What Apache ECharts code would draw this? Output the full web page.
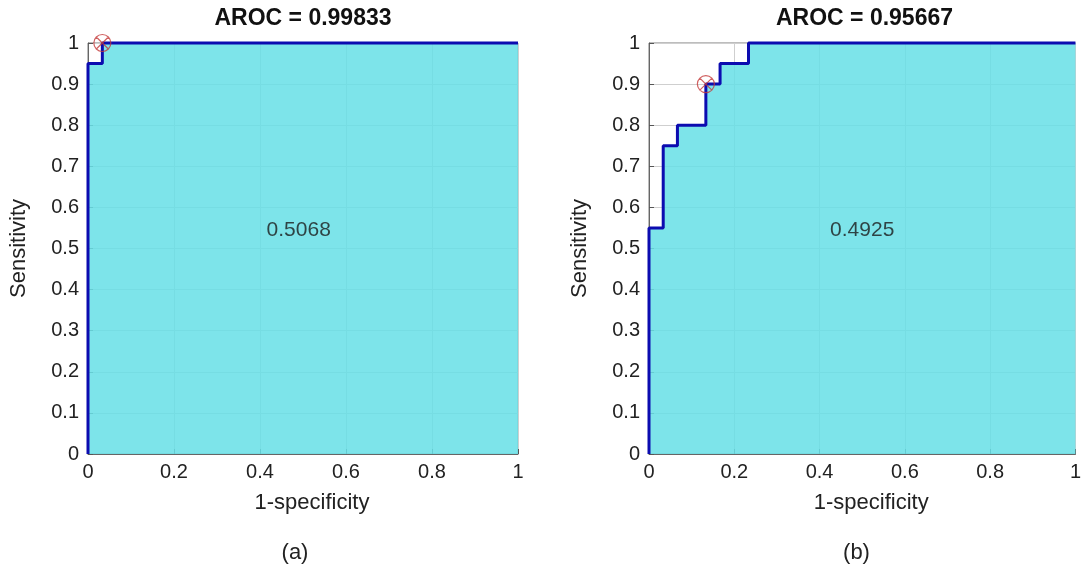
<!DOCTYPE html>
<html>
<head>
<meta charset="utf-8">
<script src="https://cdn.jsdelivr.net/npm/echarts@6/dist/echarts.min.js"></script>
<style>
  html, body { margin: 0; padding: 0; background: #fff; }
  #chart { width: 1084px; height: 568px; }
</style>
</head>
<body>
<div id="chart"></div>
<script>
// ROC corner points (1-specificity, sensitivity) for the two classifiers
const fprA = [0, 0, 1/30, 1];
const tprA = [0, 0.95, 1, 1];
const fprB = [0, 0, 1/30, 2/30, 4/30, 5/30, 7/30, 1];
const tprB = [0, 0.55, 0.75, 0.8, 0.9, 0.95, 1, 1];

// Chosen operating points
const opA = [1/30, 1];
const opB = [4/30, 0.9];

// Titles, inner annotations and panel captions
const titles = ['AROC = 0.99833', 'AROC = 0.95667'];
const notes = ['0.5068', '0.4925'];
const notePos = [[0.49, 0.545], [0.50, 0.545]];
const captions = ['(a)', '(b)'];

const FONT = 'Liberation Sans, Arial, sans-serif';
const fillColor = 'rgba(104, 224, 231, 0.86)';
const lineColor = '#0c0cb0';

const chart = echarts.init(document.getElementById('chart'));

const grids = [
  { left: 88, top: 43, width: 430, height: 411 },
  { left: 649, top: 43, width: 431, height: 411 }
];

function toPairs(xs, ys) { return xs.map((x, i) => [x, ys[i]]); }

function xAxis(i) {
  return {
    gridIndex: i, type: 'value', min: 0, max: 1, interval: 0.2,
    name: '1-specificity', nameLocation: 'middle', nameGap: 38,
    nameTextStyle: { fontFamily: FONT, fontSize: 22, color: '#222', padding: [0, 0, 0, 18] },
    axisLine: { show: true, onZero: false, lineStyle: { color: '#666', width: 1 } },
    axisTick: { show: true, inside: true, length: 5, lineStyle: { color: '#555' } },
    axisLabel: { fontFamily: FONT, fontSize: 20, color: '#222', margin: 8,
      formatter: v => String(+v.toFixed(1)) },
    splitLine: { show: true, lineStyle: { color: '#cfcfcf', width: 1 } }
  };
}
function yAxis(i) {
  return {
    gridIndex: i, type: 'value', min: 0, max: 1, interval: 0.1,
    name: 'Sensitivity', nameLocation: 'middle', nameGap: 58,
    nameTextStyle: { fontFamily: FONT, fontSize: 22, color: '#222' },
    axisLine: { show: true, onZero: false, lineStyle: { color: '#666', width: 1 } },
    axisTick: { show: true, inside: true, length: 5, lineStyle: { color: '#555' } },
    axisLabel: { fontFamily: FONT, fontSize: 20, color: '#222', margin: 9,
      formatter: v => String(+v.toFixed(1)) },
    splitLine: { show: true, lineStyle: { color: '#cfcfcf', width: 1 } }
  };
}

const curves = [[fprA, tprA], [fprB, tprB]];
const ops = [opA, opB];
const series = [];
curves.forEach(([xs, ys], i) => {
  series.push({
    type: 'line', xAxisIndex: i, yAxisIndex: i,
    data: toPairs(xs, ys), step: 'end', showSymbol: false, clip: false,
    lineStyle: { color: lineColor, width: 3 },
    areaStyle: { color: fillColor, opacity: 1, origin: 'start' },
    z: 2, silent: true
  });
  series.push({
    type: 'scatter', xAxisIndex: i, yAxisIndex: i,
    data: [ops[i]], clip: false,
    symbol: 'path://M0,-10A10,10 0 1,1 0,10A10,10 0 1,1 0,-10M-7.07,-7.07L7.07,7.07M7.07,-7.07L-7.07,7.07',
    symbolSize: 17,
    itemStyle: { color: 'rgba(0,0,0,0)', borderColor: '#c43a3a', borderWidth: 1.2 },
    z: 5, silent: true
  });
  series.push({
    type: 'scatter', xAxisIndex: i, yAxisIndex: i,
    data: [[notePos[i][0], notePos[i][1], notes[i]]],
    symbolSize: 0,
    label: { show: true, position: 'inside', formatter: p => p.data[2],
      fontFamily: FONT, fontSize: 21, color: '#1a1a1a' },
    z: 6, silent: true
  });
});

const graphic = [];
grids.forEach((g, i) => {
  const cx = g.left + g.width / 2;
  graphic.push({ type: 'text', x: cx, y: 19, style: {
    text: titles[i], font: 'bold 23px ' + FONT, fill: '#111',
    textAlign: 'center', textVerticalAlign: 'middle' } });
  graphic.push({ type: 'text', x: cx - 8, y: 553, style: {
    text: captions[i], font: '22px ' + FONT, fill: '#222',
    textAlign: 'center', textVerticalAlign: 'middle' } });
});

chart.setOption({
  backgroundColor: '#fff',
  animation: false,
  grid: grids.map(g => Object.assign({ show: true, borderColor: '#7a7a7a', borderWidth: 1,
    backgroundColor: '#fff' }, g)),
  xAxis: [xAxis(0), xAxis(1)],
  yAxis: [yAxis(0), yAxis(1)],
  series,
  graphic
});
</script>
</body>
</html>
